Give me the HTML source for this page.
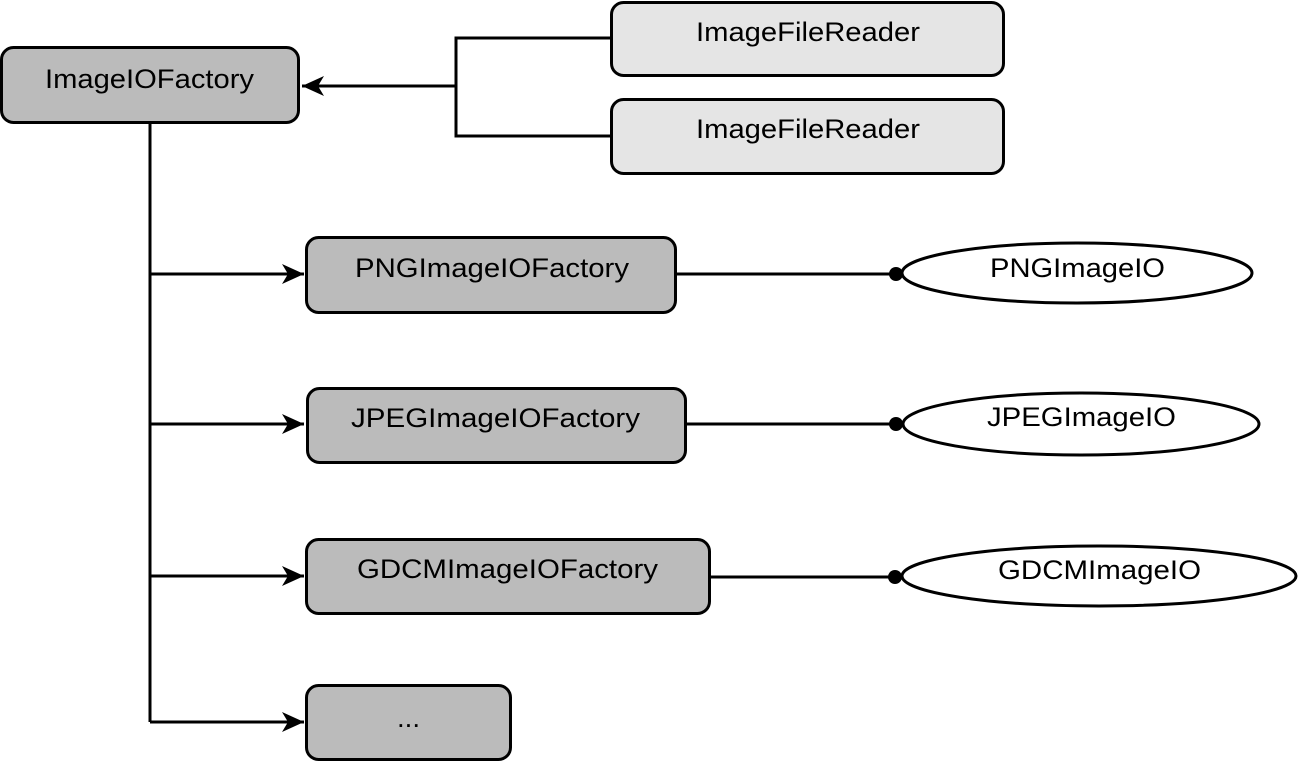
<!DOCTYPE html>
<html><head><style>html,body{margin:0;padding:0;background:#fff}svg{display:block}</style></head><body>
<svg width="1300" height="762" viewBox="0 0 1300 762" xmlns="http://www.w3.org/2000/svg" font-family="Liberation Sans, Arial, sans-serif" font-size="27">
<defs>
<marker id="a" markerWidth="24" markerHeight="20" refX="22" refY="10" orient="auto" markerUnits="userSpaceOnUse">
<path d="M0,0 L22,10 L0,20 L6,10 Z" fill="#000"/>
</marker>
</defs>
<g stroke="#000" stroke-width="3" fill="none">
<path d="M611,38 H456 V136 H611"/>
<path d="M456,86 H302" marker-end="url(#a)"/>
<path d="M150,123 V722"/>
<path d="M150,274 H304" marker-end="url(#a)"/>
<path d="M150,424 H304" marker-end="url(#a)"/>
<path d="M150,576 H304" marker-end="url(#a)"/>
<path d="M150,722 H304" marker-end="url(#a)"/>
<path d="M676,274 H895"/>
<path d="M686,424 H895"/>
<path d="M710,577 H895"/>
</g>
<g fill="#000"><circle cx="896" cy="274" r="7"/><circle cx="896" cy="424" r="7"/><circle cx="895" cy="577" r="7"/></g>
<g stroke="#000" stroke-width="3">
<rect x="1.5" y="47.5" width="297" height="75" rx="12" fill="#bbb"/>
<rect x="611.5" y="2.5" width="392" height="73" rx="12" fill="#e5e5e5"/>
<rect x="611.5" y="99.5" width="392" height="74" rx="12" fill="#e5e5e5"/>
<rect x="306.5" y="237.5" width="369" height="75" rx="12" fill="#bbb"/>
<rect x="307.5" y="388.5" width="378" height="74" rx="12" fill="#bbb"/>
<rect x="306.5" y="539.5" width="403" height="74" rx="12" fill="#bbb"/>
<rect x="306.5" y="685.5" width="204" height="74" rx="12" fill="#bbb"/>
<ellipse cx="1077" cy="273" rx="175" ry="30" fill="#fff"/>
<ellipse cx="1081" cy="424" rx="178" ry="31" fill="#fff"/>
<ellipse cx="1099" cy="576" rx="197" ry="30" fill="#fff"/>
</g>
<g fill="#000" lengthAdjust="spacingAndGlyphs">
<text x="45" y="88" textLength="209" lengthAdjust="spacingAndGlyphs">ImageIOFactory</text>
<text x="696" y="41" textLength="224" lengthAdjust="spacingAndGlyphs">ImageFileReader</text>
<text x="696" y="138" textLength="224" lengthAdjust="spacingAndGlyphs">ImageFileReader</text>
<text x="355" y="277" textLength="274" lengthAdjust="spacingAndGlyphs">PNGImageIOFactory</text>
<text x="351" y="427" textLength="289" lengthAdjust="spacingAndGlyphs">JPEGImageIOFactory</text>
<text x="357" y="578" textLength="301" lengthAdjust="spacingAndGlyphs">GDCMImageIOFactory</text>
<text x="397" y="727" textLength="23" lengthAdjust="spacingAndGlyphs">...</text>
<text x="990" y="277" textLength="175" lengthAdjust="spacingAndGlyphs">PNGImageIO</text>
<text x="987" y="426" textLength="189" lengthAdjust="spacingAndGlyphs">JPEGImageIO</text>
<text x="998" y="579" textLength="203" lengthAdjust="spacingAndGlyphs">GDCMImageIO</text>
</g>
</svg>
</body></html>
